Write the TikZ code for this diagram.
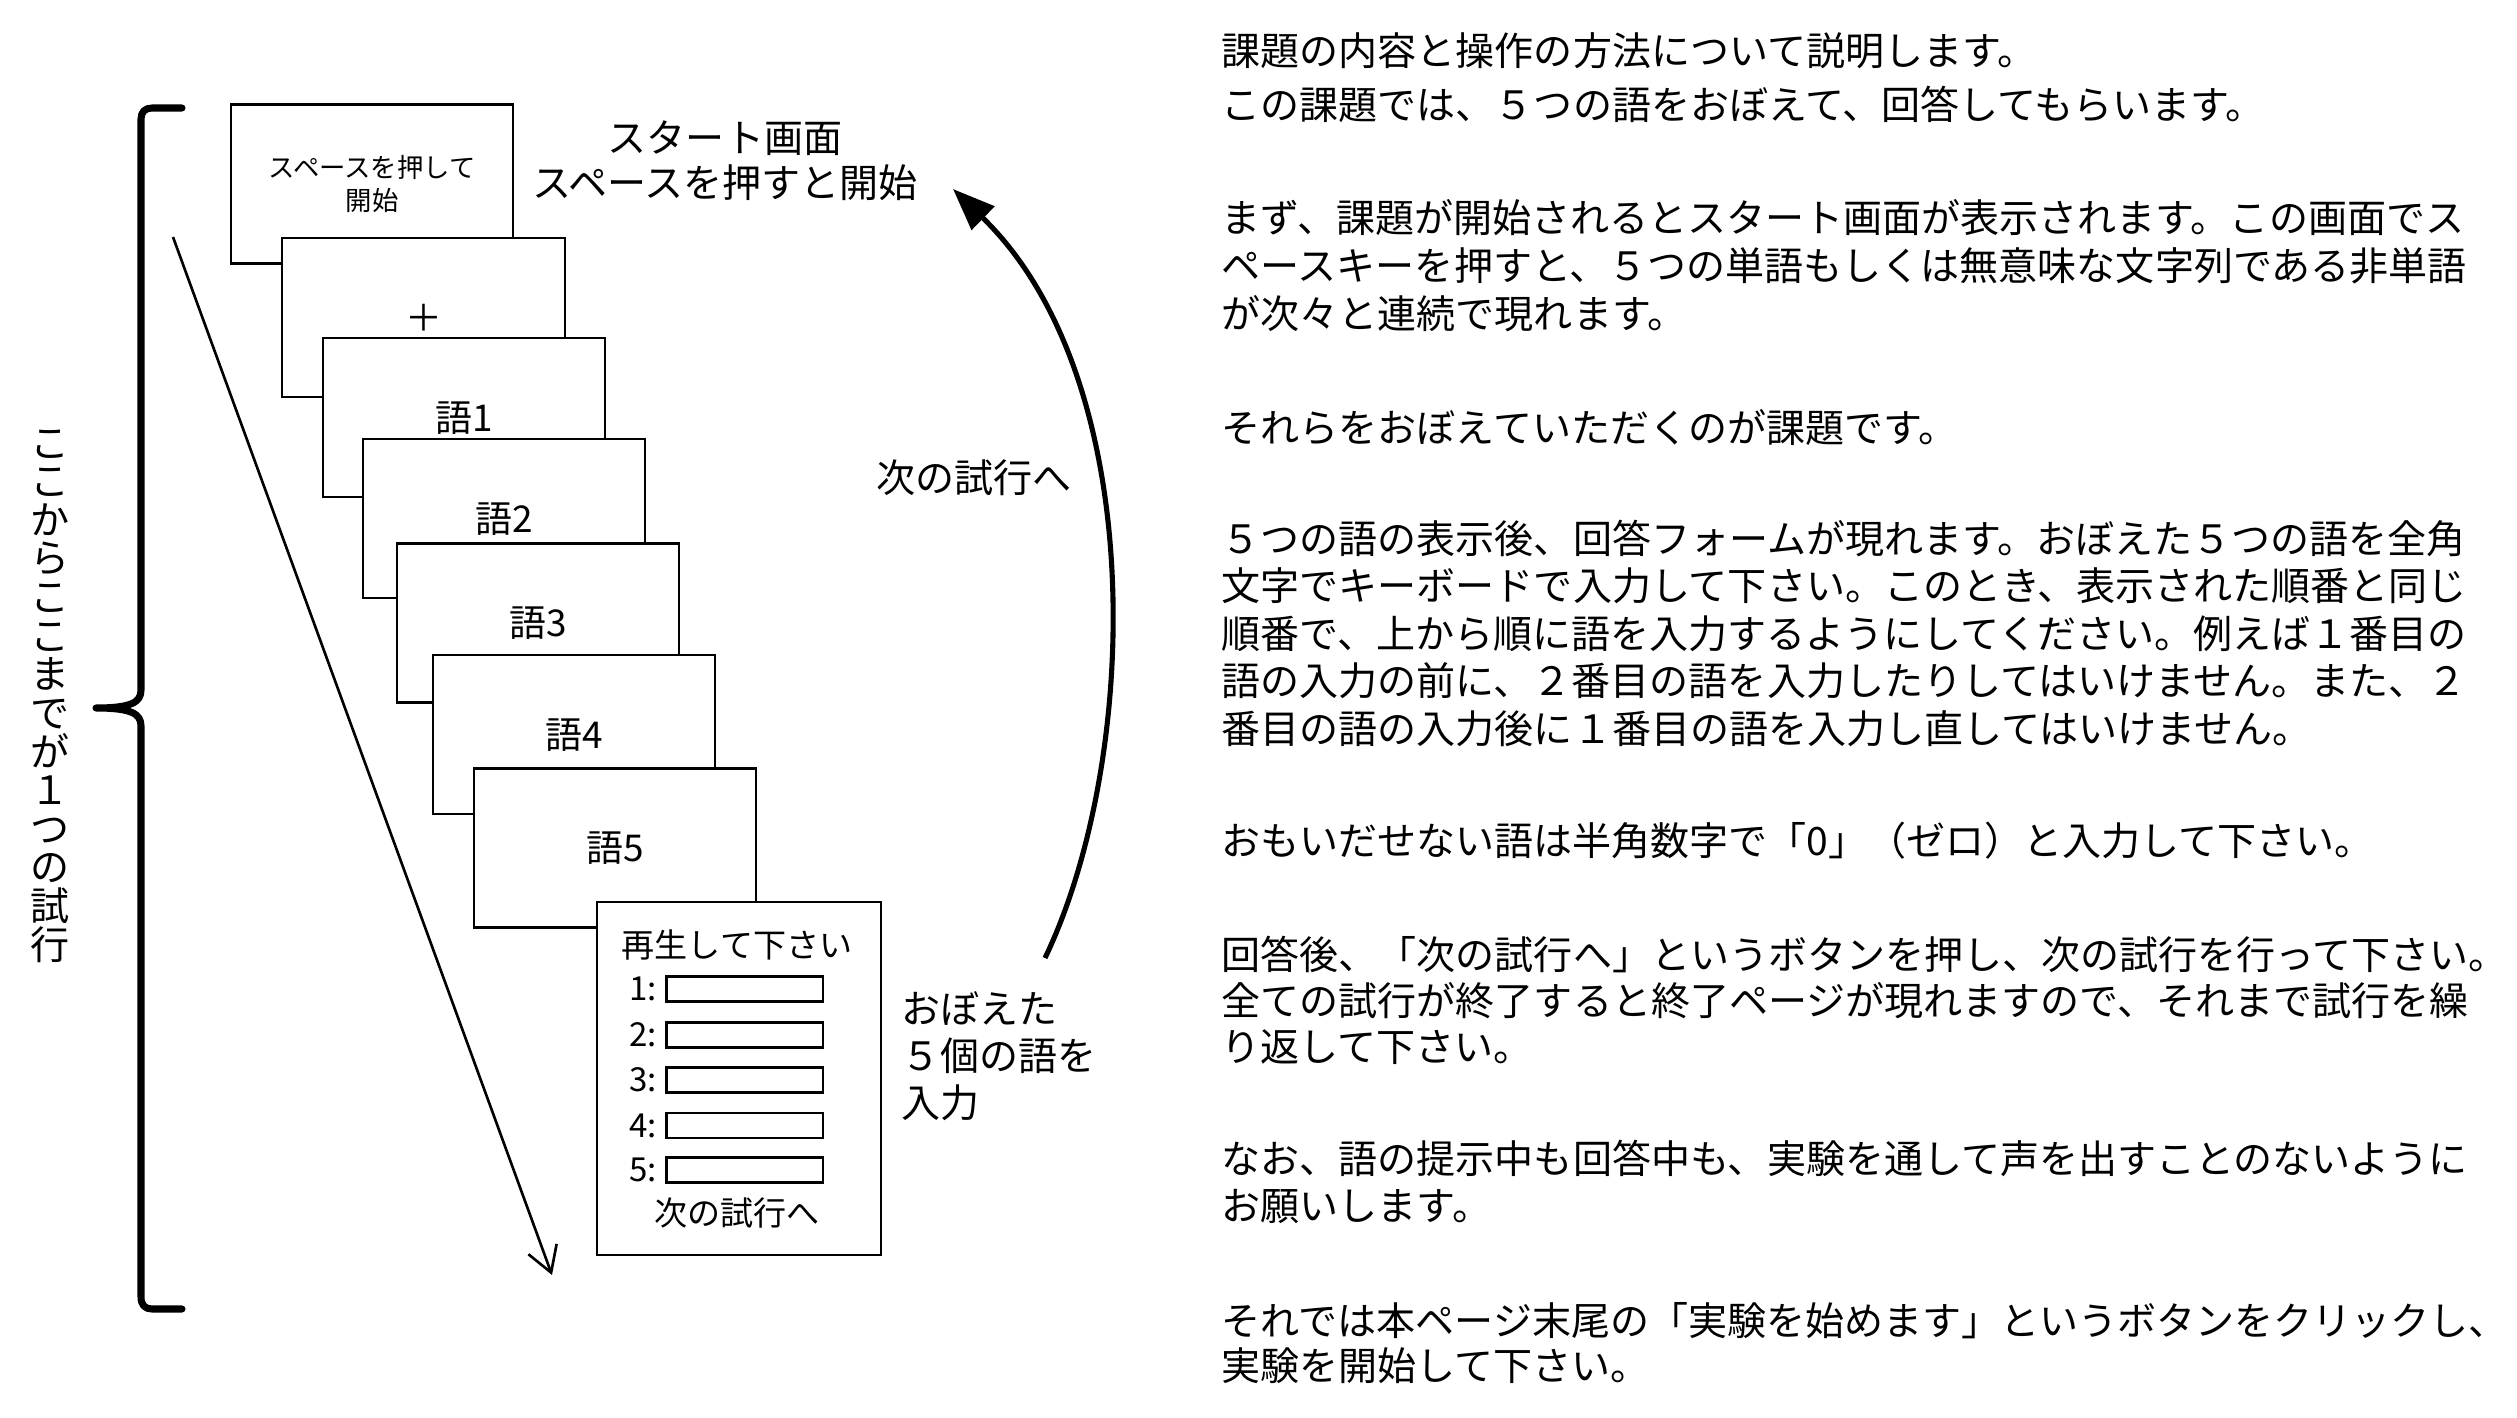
\documentclass[tikz,border=0pt]{standalone}
\usepackage{fontspec}
\setmainfont{Noto Sans CJK JP}
\usetikzlibrary{arrows.meta}
\begin{document}
\begin{tikzpicture}[x=0.01cm,y=-0.01cm,
  scr/.style={draw, line width=0.6pt, fill=white, minimum width=2.82cm, minimum height=1.59cm, inner sep=0pt, font=\fontsize{10.5pt}{12pt}\selectfont},
  inbox/.style={draw, line width=0.6pt, minimum width=1.565cm, minimum height=0.25cm, inner sep=0pt},
  body/.style={anchor=base west, inner sep=0pt, font=\fontsize{11.1pt}{13pt}\selectfont},
  lbl/.style={inner sep=0pt, align=center, font=\fontsize{11.1pt}{12.8pt}\selectfont},
  formtxt/.style={inner sep=0pt, font=\fontsize{9.4pt}{11pt}\selectfont},
  brace/.style={line width=2pt, line cap=round, line join=round}]
\useasboundingbox (0,0) rectangle (2517,1418);
% brace
\draw[brace] (182,108) -- (152,108) .. controls (145,108) and (141,112) .. (141,119) -- (141,690) .. controls (141,702) and (132,708) .. (96,708) .. controls (132,708) and (141,714) .. (141,726) -- (141,1297) .. controls (141,1305) and (145,1309) .. (152,1309) -- (182,1309);
\node[inner sep=0pt, align=center, font=\fontsize{11.1pt}{10.98pt}\selectfont] (vt) at (50,696) {こ\\こ\\か\\ら\\こ\\こ\\ま\\で\\が\\１\\つ\\の\\試\\行};
% diagonal arrow
\coordinate (a1) at (173,237);
\coordinate (a2) at (552,1275);
\draw[line width=0.75pt, -{Straight Barb[length=0.25cm,width=0.3cm]}] (a1) -- (a2);
% screens
\node[scr, align=center, font=\fontsize{7.5pt}{9.5pt}\selectfont] (b1) at (372,184) {スペースを押して\\開始};
\node[scr] (b2) at (423.5,317.75) {＋};
\node[scr] (b3) at (464,417.75) {語1};
\node[scr] (b4) at (504,518.75) {語2};
\node[scr] (b5) at (538,623) {語3};
\node[scr] (b6) at (574,734.75) {語4};
\node[scr] (b7) at (615,848) {語5};
\node[scr, minimum width=2.84cm, minimum height=3.53cm] (b8) at (739,1078.5) {};
\node[formtxt] (f0) at (737,945) {再生して下さい};
\foreach \i/\yy in {1/989,2/1035,3/1080,4/1125.5,5/1170}{
  \node[inbox] (in\i) at (744.75,\yy) {};
  \node[formtxt, anchor=east] (fl\i) at ([xshift=-0.08cm]in\i.west) {\i:};
}
\node[formtxt] (fn) at (737,1213) {次の試行へ};
% labels
\node[lbl] (ls) at (725,160.5) {スタート画面\\スペースを押すと開始};
\node[lbl] (ln) at (974,478) {次の試行へ};
\node[lbl, align=left, anchor=west, font=\fontsize{11.1pt}{13.3pt}\selectfont] (lo) at (901,1056) {おぼえた\\５個の語を\\入力};
% curved arrow
\coordinate (c1) at (1045,958);
\coordinate (c2) at (953,189);
\draw[line width=1.45pt, -{Triangle[length=0.42cm,width=0.32cm]}] (c1) .. controls (1140,760) and (1150,380) .. (c2);
% right text
\node[body] (t1) at (1221,65) {課題の内容と操作の方法について説明します。};
\node[body] (t2) at (1221,120) {この課題では、５つの語をおぼえて、回答してもらいます。};
\node[body] (t3) at (1221,232) {まず、課題が開始されるとスタート画面が表示されます。この画面でス};
\node[body] (t4) at (1221,280) {ペースキーを押すと、５つの単語もしくは無意味な文字列である非単語};
\node[body] (t5) at (1221,328) {が次々と連続で現れます。};
\node[body] (t6) at (1221,442) {それらをおぼえていただくのが課題です。};
\node[body] (t7) at (1221,553) {５つの語の表示後、回答フォームが現れます。おぼえた５つの語を全角};
\node[body] (t8) at (1221,600.5) {文字でキーボードで入力して下さい。このとき、表示された順番と同じ};
\node[body] (t9) at (1221,648) {順番で、上から順に語を入力するようにしてください。例えば１番目の};
\node[body] (t10) at (1221,695.5) {語の入力の前に、２番目の語を入力したりしてはいけません。また、２};
\node[body] (t11) at (1221,743) {番目の語の入力後に１番目の語を入力し直してはいけません。};
\node[body] (t12) at (1221,855) {おもいだせない語は半角数字で「0」（ゼロ）と入力して下さい。};
\node[body] (t13) at (1221,969) {回答後、「次の試行へ」というボタンを押し、次の試行を行って下さい。};
\node[body] (t14) at (1221,1015) {全ての試行が終了すると終了ページが現れますので、それまで試行を繰};
\node[body] (t15) at (1221,1061) {り返して下さい。};
\node[body] (t16) at (1221,1173) {なお、語の提示中も回答中も、実験を通して声を出すことのないように};
\node[body] (t17) at (1221,1220) {お願いします。};
\node[body] (t18) at (1221,1335) {それでは本ページ末尾の「実験を始めます」というボタンをクリックし、};
\node[body] (t19) at (1221,1380) {実験を開始して下さい。};
\end{tikzpicture}
\end{document}
